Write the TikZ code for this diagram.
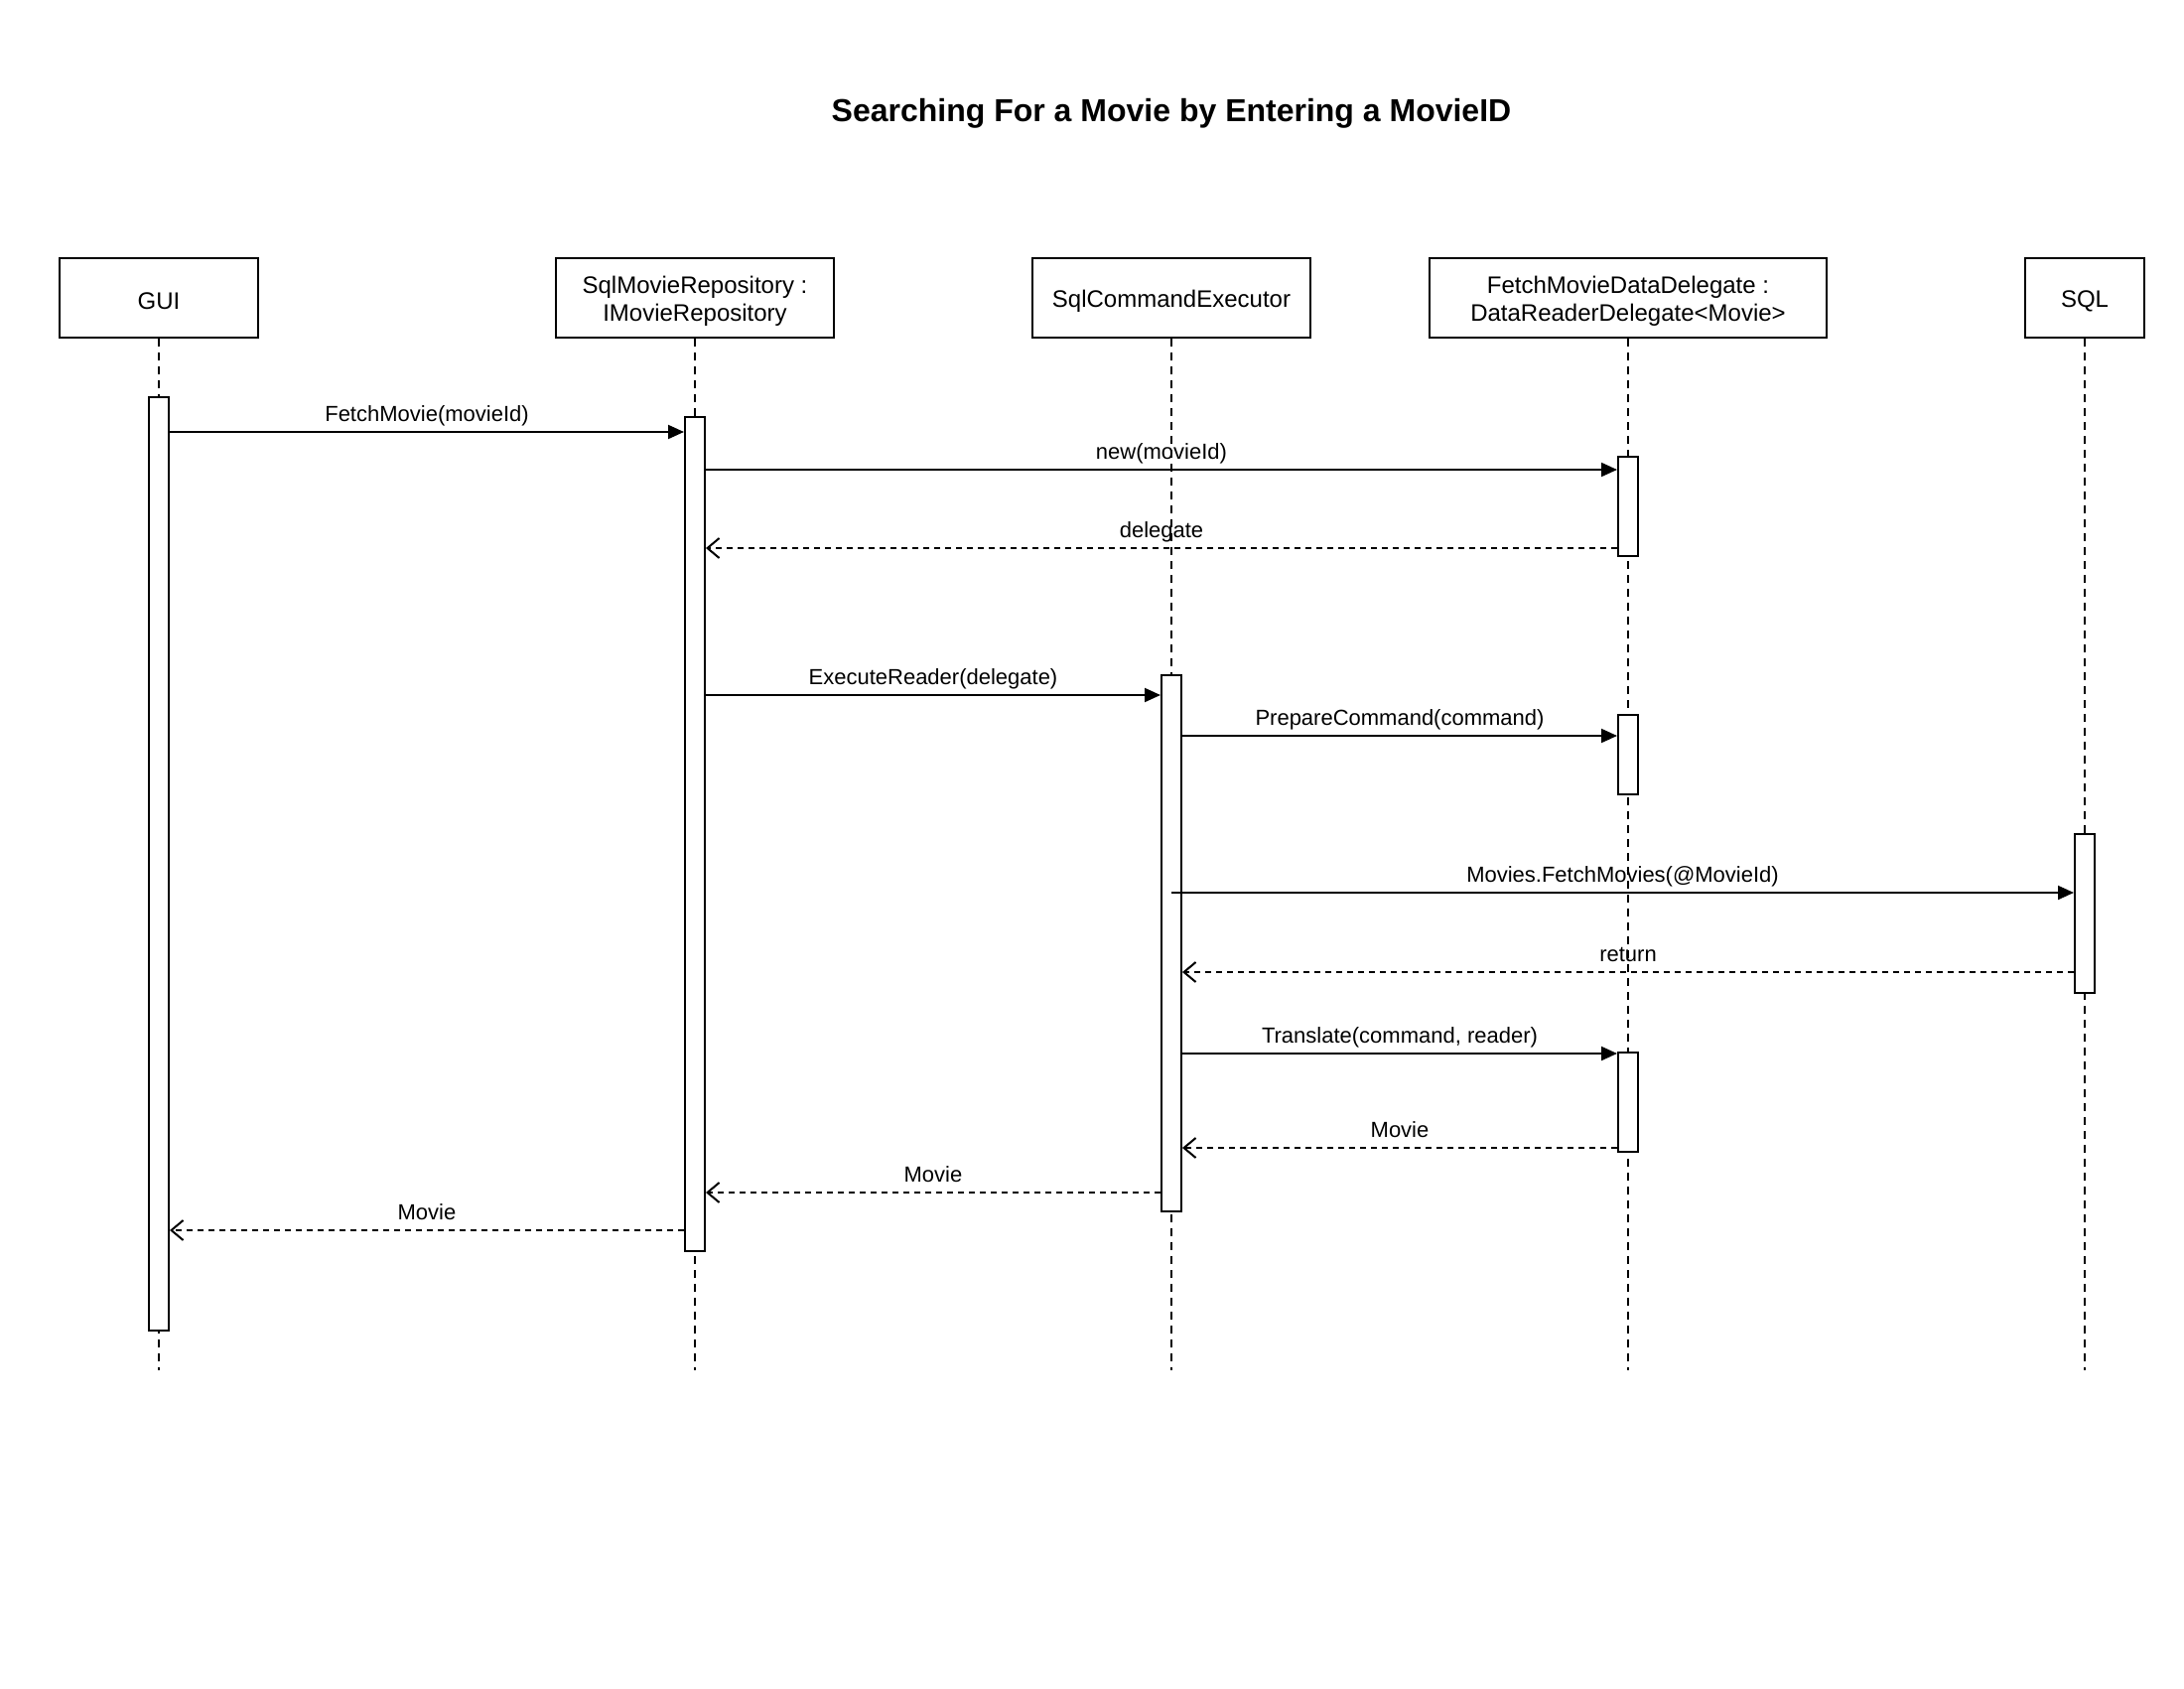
\documentclass[tikz,border=0pt]{standalone}
\usepackage{fontspec}
\setmainfont{Liberation Sans}
\usetikzlibrary{arrows.meta}
\begin{document}
\begin{tikzpicture}[x=1pt,y=-1pt,line width=2pt,
  head/.style={draw,line width=2pt,minimum height=80pt,inner sep=0pt},
  headtxt/.style={align=center,inner sep=0pt,yshift=-3pt,font=\fontsize{24}{28}\selectfont},
  act/.style={draw,fill=white,line width=2pt,minimum width=20pt,inner sep=0pt},
  life/.style={line width=2pt,dash pattern=on 8pt off 6pt},
  msg/.style={-{Triangle[length=16pt,width=14pt]},line width=2pt},
  ret/.style={-{Straight Barb[length=12pt,width=20pt]},line width=2pt,dash pattern=on 6pt off 5pt},
  lbl/.style={font=\fontsize{22}{26}\selectfont,above=5pt,inner sep=0pt,text height=16pt,text depth=5pt,midway}]
\useasboundingbox[fill=white] (0,0) rectangle (2200,1700);

\node[font=\bfseries\fontsize{32}{38}\selectfont] (title) at (1180,114) {Searching For a Movie by Entering a MovieID};

% heads
\node[head,minimum width=200pt,label={[headtxt]center:{GUI}}] (gui)  at (160,300) {};
\node[head,minimum width=280pt,label={[headtxt]center:{SqlMovieRepository :\\IMovieRepository}}] (repo) at (700,300) {};
\node[head,minimum width=280pt,label={[headtxt]center:{SqlCommandExecutor}}] (exec) at (1180,300) {};
\node[head,minimum width=400pt,label={[headtxt]center:{FetchMovieDataDelegate :\\DataReaderDelegate<Movie>}}] (dlg)  at (1640,300) {};
\node[head,minimum width=120pt,label={[headtxt]center:{SQL}}] (sql)  at (2100,300) {};

% lifelines
\coordinate (guiE)  at (160,1380);
\coordinate (repoE) at (700,1380);
\coordinate (execE) at (1180,1380);
\coordinate (dlgE)  at (1640,1380);
\coordinate (sqlE)  at (2100,1380);
\draw[life] (gui.south) -- (guiE);
\draw[life] (repo.south) -- (repoE);
\draw[life] (exec.south) -- (execE);
\draw[life] (dlg.south) -- (dlgE);
\draw[life] (sql.south) -- (sqlE);

% activation bars
\node[act,minimum height=940pt] (gA)  at (160,870) {};
\node[act,minimum height=840pt] (rA)  at (700,840) {};
\node[act,minimum height=540pt] (eA)  at (1180,950) {};
\node[act,minimum height=100pt] (dA1) at (1640,510) {};
\node[act,minimum height=80pt]  (dA2) at (1640,760) {};
\node[act,minimum height=160pt] (sA)  at (2100,920) {};
\node[act,minimum height=100pt] (dA3) at (1640,1110) {};

% messages
\draw[msg] (gA.east |- 0,435) -- node[lbl]{FetchMovie(movieId)} (rA.west |- 0,435);
\draw[msg] (rA.east |- 0,473) -- node[lbl]{new(movieId)} (dA1.west |- 0,473);
\draw[ret] (dA1.west |- 0,552) -- node[lbl]{delegate} (rA.east |- 0,552);
\draw[msg] (rA.east |- 0,700) -- node[lbl]{ExecuteReader(delegate)} (eA.west |- 0,700);
\draw[msg] (eA.east |- 0,741) -- node[lbl]{PrepareCommand(command)} (dA2.west |- 0,741);
\draw[msg] (eA.center |- 0,899) -- node[lbl]{Movies.FetchMovies(@MovieId)} (sA.west |- 0,899);
\draw[ret] (sA.west |- 0,979) -- node[lbl]{return} (eA.east |- 0,979);
\draw[msg] (eA.east |- 0,1061) -- node[lbl]{Translate(command, reader)} (dA3.west |- 0,1061);
\draw[ret] (dA3.west |- 0,1156) -- node[lbl]{Movie} (eA.east |- 0,1156);
\draw[ret] (eA.west |- 0,1201) -- node[lbl]{Movie} (rA.east |- 0,1201);
\draw[ret] (rA.west |- 0,1239) -- node[lbl]{Movie} (gA.east |- 0,1239);
\end{tikzpicture}
\end{document}
